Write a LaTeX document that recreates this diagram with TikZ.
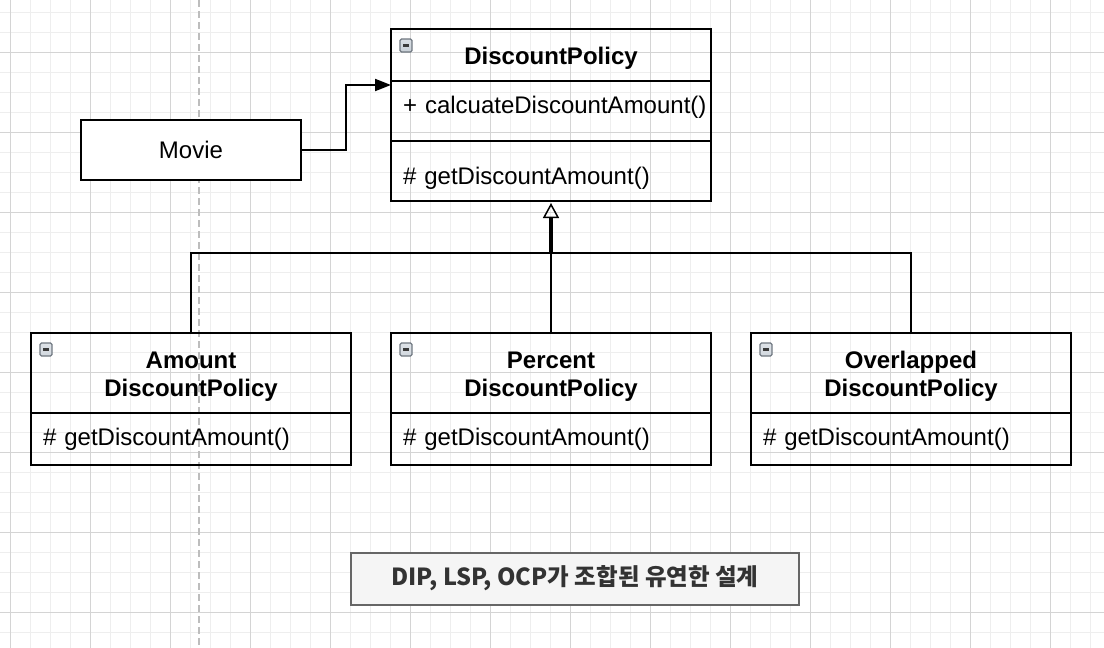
\documentclass[tikz,border=0pt]{standalone}
\usepackage{fontspec}
\setmainfont{Liberation Sans}
\newfontfamily\cjk{Noto Sans CJK KR}
\usetikzlibrary{positioning,arrows.meta}
\definecolor{gridminor}{HTML}{EEEEEE}
\definecolor{gridmajor}{HTML}{D4D4D4}
\definecolor{guide}{HTML}{BDBDBD}
\definecolor{notefill}{HTML}{F5F5F5}
\definecolor{notedraw}{HTML}{666666}
\definecolor{notetext}{HTML}{333333}
\definecolor{icontop}{HTML}{E6EAEE}
\definecolor{iconfill}{HTML}{A3AEBA}
\definecolor{icondraw}{HTML}{6F7780}
\definecolor{iconbar}{HTML}{3A3A3A}

\begin{document}
\begin{tikzpicture}[x=1pt,y=-1pt,
	every node/.style={font=\fontsize{24}{28}\selectfont,outer sep=0pt,line width=2pt},
	classhead/.style={draw,minimum width=320pt,align=center,
		font=\fontsize{24}{28}\selectfont\bfseries,
		path picture={
			\shade[top color=icontop,bottom color=iconfill,draw=icondraw,line width=1.2pt,rounded corners=1.5pt]
				([shift={(9pt,-10pt)}]path picture bounding box.north west) rectangle ++(12pt,-13pt);
			\draw[iconbar,line width=2.5pt]
				([shift={(12pt,-16.5pt)}]path picture bounding box.north west) -- ++(6pt,0pt);}},
	member/.style={draw,minimum width=320pt,text width=316pt,inner xsep=2pt,align=left,
		text height=18pt,text depth=6pt,execute at begin node={\hspace*{10pt}}},
	plainbox/.style={draw,fill=white,minimum width=220pt,minimum height=60pt},
	note/.style={draw=notedraw,fill=notefill,text=notetext,minimum width=448pt,minimum height=52pt,
		font=\cjk\fontsize{23.5}{28}\selectfont\bfseries},
	conn/.style={line width=2pt}]
		\useasboundingbox (0,0) rectangle (1104,648);

		% grid
		\foreach \gx in {10,30,...,1090}
			\draw[gridminor,line width=1pt] (\gx,0) -- (\gx,648);
		\foreach \gy in {12,32,...,632}
			\draw[gridminor,line width=1pt] (0,\gy) -- (1104,\gy);
		\foreach \gx in {10,90,...,1050}
			\draw[gridmajor,line width=1pt] (\gx,0) -- (\gx,648);
		\foreach \gy in {52,132,...,612}
			\draw[gridmajor,line width=1pt] (0,\gy) -- (1104,\gy);
		\draw[guide,line width=2pt,dash pattern=on 7pt off 4pt] (199,0) -- (199,648);

		\node[plainbox] (movie) at (191,149.5) {Movie};

		\node[classhead,minimum height=52pt,text height=24pt,text depth=5pt] (dp) at (551,55) {DiscountPolicy};
		\node[member,minimum height=60pt,below=0pt of dp,text height=14pt,text depth=10pt] (dpcalc) {+ calcuateDiscountAmount()};
		\node[member,minimum height=60pt,below=0pt of dpcalc,text height=26pt,text depth=0pt] (dpget) {\# getDiscountAmount()};

		\node[classhead,minimum height=80pt,text height=52pt,text depth=5pt] (amount) at (191,373) {Amount\\DiscountPolicy};
		\node[member,minimum height=52pt,below=0pt of amount] (amountget) {\# getDiscountAmount()};
		\node[classhead,minimum height=80pt,text height=52pt,text depth=5pt] (percent) at (551,373) {Percent\\DiscountPolicy};
		\node[member,minimum height=52pt,below=0pt of percent] (percentget) {\# getDiscountAmount()};
		\node[classhead,minimum height=80pt,text height=52pt,text depth=5pt] (overlapped) at (911,373) {Overlapped\\DiscountPolicy};
		\node[member,minimum height=52pt,below=0pt of overlapped] (overlappedget) {\# getDiscountAmount()};

		\node[note] (caption) at (575,578.5) {DIP, LSP, OCP가 조합된 유연한 설계};

		\coordinate (dpin) at ([yshift=-4pt]dp.south west);
		\coordinate (junc) at (551,253);

		\draw[conn,-{Triangle[length=16pt,width=12pt]}] (movie.east) -- ++(45,0) |- (dpin);
		\foreach \sub in {amount,percent,overlapped}
			\draw[conn] (\sub.north) |- (junc);
		\draw[line width=3.5pt,shorten >=2pt,-{Triangle[open,length=15pt,width=16pt,line width=1.5pt]}] (junc) -- (dpget.south);
	\end{tikzpicture}
\end{document}
